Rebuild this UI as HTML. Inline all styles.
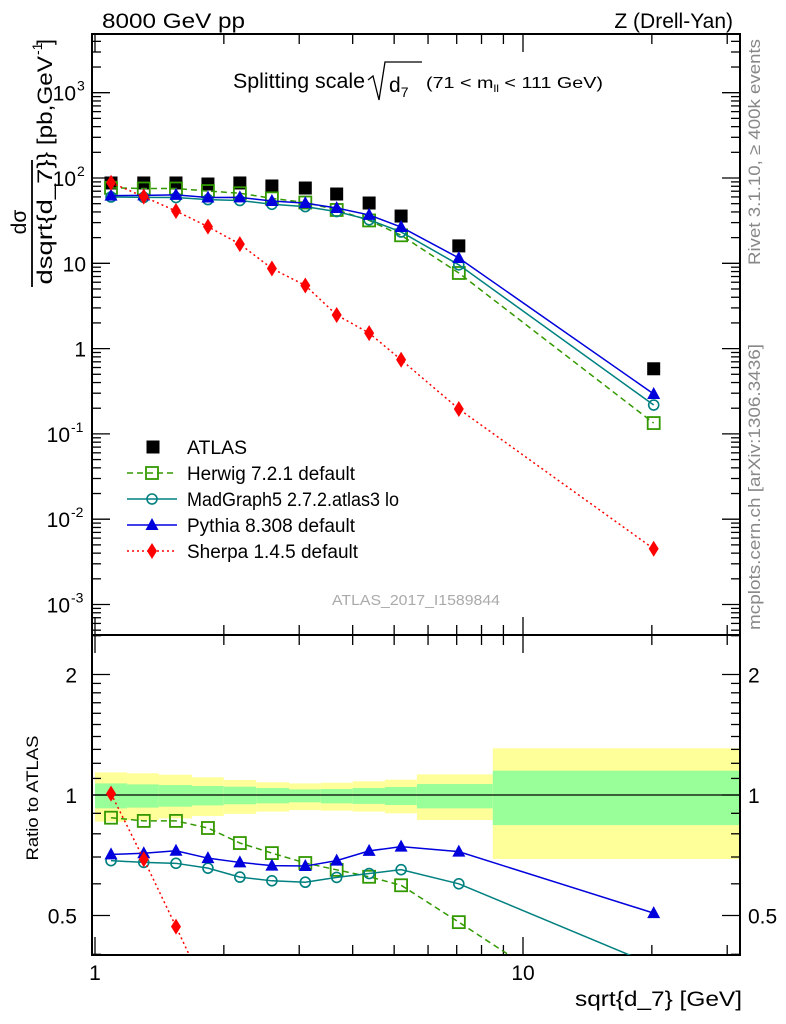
<!DOCTYPE html>
<html><head><meta charset="utf-8"><style>
html,body{margin:0;background:#fff;width:786px;height:1024px;overflow:hidden}
svg{display:block;font-family:"Liberation Sans",sans-serif}
</style></head><body>
<svg id="c" width="786" height="1024" viewBox="0 0 786 1024" xmlns="http://www.w3.org/2000/svg">
<text x="102" y="28" font-size="21" textLength="143" lengthAdjust="spacingAndGlyphs">8000 GeV pp</text>
<text x="733" y="28" font-size="21" text-anchor="end">Z (Drell-Yan)</text>
<g>
<text x="233" y="88" font-size="21" textLength="132" lengthAdjust="spacingAndGlyphs">Splitting scale</text>
<path d="M368,80 L373,76 L379,100 L385,62 L422,62" fill="none" stroke="#000" stroke-width="1.3"/>
<text x="389" y="92" font-size="21">d<tspan font-size="14" dy="5">7</tspan></text>
<text x="426" y="88" font-size="16" textLength="177" lengthAdjust="spacingAndGlyphs">(71 &lt; m<tspan font-size="10" dy="4">ll</tspan><tspan dy="-4"> &lt; 111 GeV)</tspan></text>
</g>
<g transform="rotate(-90)">
<text x="-222" y="26" font-size="21" text-anchor="middle">dσ</text>
<line x1="-287" y1="32" x2="-160" y2="32" stroke="#000" stroke-width="1.8"/>
<text x="-222" y="52" font-size="21" text-anchor="middle" textLength="125" lengthAdjust="spacingAndGlyphs">dsqrt{d_7}</text>
<text x="-160" y="52" font-size="21" textLength="104" lengthAdjust="spacingAndGlyphs">} [pb,GeV</text>
<text x="-55" y="42" font-size="14">-1</text>
<text x="-45" y="52" font-size="21">]</text>
</g>
<text transform="translate(38,798) rotate(-90)" font-size="17" text-anchor="middle" textLength="125" lengthAdjust="spacingAndGlyphs">Ratio to ATLAS</text>
<text transform="translate(760,265) rotate(-90)" font-size="17" fill="#888" textLength="226" lengthAdjust="spacingAndGlyphs">Rivet 3.1.10, ≥ 400k events</text>
<text transform="translate(760,630) rotate(-90)" font-size="17" fill="#888" textLength="286" lengthAdjust="spacingAndGlyphs">mcplots.cern.ch [arXiv:1306.3436]</text>
<text x="332" y="605" font-size="15" fill="#aaa" textLength="168" lengthAdjust="spacingAndGlyphs">ATLAS_2017_I1589844</text>
<text x="575" y="1006" font-size="21" textLength="167" lengthAdjust="spacingAndGlyphs">sqrt{d_7} [GeV]</text>
<g id="bands"></g><g id="axes"></g><g id="series"></g>
<g id="legend"></g>
</svg>
<script>
const xCenters=[1.09,1.30,1.546,1.836,2.18,2.59,3.10,3.67,4.37,5.19,7.08,20.2];
const binEdges=[1.0,1.188,1.41,1.685,2.0,2.38,2.84,3.37,4.0,4.76,5.65,8.5,32];
const atlas=[87.4,87.4,87.4,85.0,87.4,80.6,76.3,64.9,50.9,35.8,16.0,0.58];
const herwig=[76.7,75.3,75.3,70.3,66.3,57.7,51.6,42.2,31.8,21.3,7.7,0.134];
const madgraph=[59.9,59.3,59.0,55.8,54.5,49.2,46.2,40.4,32.4,23.3,9.6,0.218];
const pythia=[62.1,62.5,63.4,59.1,59.3,53.7,50.7,44.5,36.9,26.6,11.55,0.294];
const sherpa=[88.1,60.4,41.0,26.9,16.8,8.7,5.5,2.48,1.52,0.74,0.196,0.0045];
const yellowHi=[1.139,1.133,1.124,1.107,1.090,1.076,1.069,1.073,1.082,1.092,1.126,1.308];
const yellowLo=[0.858,0.866,0.874,0.886,0.897,0.909,0.917,0.914,0.909,0.900,0.866,0.692];
const greenHi=[1.069,1.063,1.059,1.053,1.049,1.041,1.033,1.035,1.041,1.047,1.065,1.150];
const greenLo=[0.926,0.930,0.935,0.942,0.948,0.953,0.959,0.953,0.950,0.944,0.926,0.841];
const yTickLabels=["10^-3","10^-2","10^-1","1","10","10^2","10^3"];
const rTickVals=[0.5,1,2];
const rMinorVals=[0.4,0.6,0.7,0.8,0.9,1.1,1.2,1.3,1.4,1.5,1.6,1.7,1.8,1.9,2.5];
const xticks=[1,2,3,4,5,6,7,8,9,10,20,30];

const NS="http://www.w3.org/2000/svg";
const L=92,R=740,T=34,MB=635,RB=955;
const X=v=>95+428*Math.log10(v);
const Y=v=>178-85.3*(Math.log10(v)-2);
const RY=v=>795-120.5*Math.log2(v);
function mk(p,tag,a){const e=document.createElementNS(NS,tag);for(const k in a)e.setAttribute(k,a[k]);p.appendChild(e);return e;}
const svg=document.getElementById('c');
const bands=document.getElementById('bands'),axes=document.getElementById('axes'),ser=document.getElementById('series'),leg=document.getElementById('legend');

for(let i=0;i<yellowHi.length;i++){
 const x0=Math.max(L,X(binEdges[i])),x1=Math.min(R,X(binEdges[i+1]));
 const y=mk(bands,'rect',{x:x0,y:RY(yellowHi[i]),width:x1-x0,height:RY(yellowLo[i])-RY(yellowHi[i]),fill:'#ffff99'});
 
 
 const g=mk(bands,'rect',{x:x0,y:RY(greenHi[i]),width:x1-x0,height:RY(greenLo[i])-RY(greenHi[i]),fill:'#99ff99'});
 
 
}
mk(bands,'line',{x1:L,x2:R,y1:RY(1),y2:RY(1),stroke:'#000','stroke-width':1.2});

[[T,MB],[MB,RB]].forEach(([t,b])=>{
 const f=mk(axes,'rect',{x:L,y:t,width:R-L,height:b-t,fill:'none',stroke:'#000','stroke-width':2});
 
 
});
xticks.forEach(v=>{const x=X(v);if(x<L||x>R)return;const len=(v===1||v===10)?18:10;
 [[T,MB],[MB,RB]].forEach(([t,b])=>{mk(axes,'line',{x1:x,x2:x,y1:b,y2:b-len,stroke:'#000','stroke-width':1.3});mk(axes,'line',{x1:x,x2:x,y1:t,y2:t+len,stroke:'#000','stroke-width':1.3});});});
[1,10].forEach(v=>{const t=mk(axes,'text',{x:X(v),y:980,'font-size':21,'text-anchor':'middle'});t.textContent=String(v);
 
 });
for(let e=-4;e<=3;e++){for(let m=1;m<10;m++){const v=m*Math.pow(10,e);const y=Y(v);if(y<T||y>MB)continue;const len=m===1?18:9;
 mk(axes,'line',{x1:L,x2:L+len,y1:y,y2:y,stroke:'#000','stroke-width':1.3});mk(axes,'line',{x1:R,x2:R-len,y1:y,y2:y,stroke:'#000','stroke-width':1.3});}}
yTickLabels.forEach(s=>{let v,txt,sup=null;if(s.includes('^')){const p=s.split('^');v=Math.pow(10,+p[1]);txt=p[0];sup=p[1];}else{v=+s;txt=s;}
 const t=mk(axes,'text',{x:sup?(sup.length>1?70:76):86,y:Y(v)+8,'font-size':21,'text-anchor':'end'});t.textContent=txt;
 
 
 if(sup){const s2=mk(axes,'text',{x:sup.length>1?71:77,y:Y(v)-2,'font-size':14,'text-anchor':'start'});s2.textContent=sup;}});
rTickVals.concat(rMinorVals).forEach(v=>{const y=RY(v);if(y<MB||y>RB)return;const maj=rTickVals.indexOf(v)>=0;const len=maj?18:9;
 mk(axes,'line',{x1:L,x2:L+len,y1:y,y2:y,stroke:'#000','stroke-width':1.3});mk(axes,'line',{x1:R,x2:R-len,y1:y,y2:y,stroke:'#000','stroke-width':1.3});});
rTickVals.forEach(v=>{[[77,'end'],[748,'start']].forEach(([x,a])=>{const t=mk(axes,'text',{x:x,y:RY(v)+8,'font-size':21,'text-anchor':a});t.textContent=String(v);
 
 });});

function marker(p,type,x,y,col){
 if(type==='sq')return mk(p,'rect',{x:x-6,y:y-6,width:12,height:12,fill:'none',stroke:col,'stroke-width':1.8});
 if(type==='circ')return mk(p,'circle',{cx:x,cy:y,r:5,fill:'none',stroke:col,'stroke-width':1.6});
 if(type==='tri')return mk(p,'path',{d:`M${x},${y-7}L${x+6.5},${y+5}L${x-6.5},${y+5}Z`,fill:col});
 if(type==='dia')return mk(p,'path',{d:`M${x},${y-8}L${x+5},${y}L${x},${y+8}L${x-5},${y}Z`,fill:col});
 return mk(p,'rect',{x:x-6.5,y:y-6.5,width:13,height:13,fill:col});
}
const defs=[
 {name:'herwig',data:herwig,col:'#339900',dash:'6,4',m:'sq',label:'Herwig 7.2.1 default',w:168},
 {name:'madgraph',data:madgraph,col:'#008080',dash:'',m:'circ',label:'MadGraph5 2.7.2.atlas3 lo',w:212},
 {name:'pythia',data:pythia,col:'#0000dd',dash:'',m:'tri',label:'Pythia 8.308 default',w:168},
 {name:'sherpa',data:sherpa,col:'#ff0000',dash:'2,3',m:'dia',label:'Sherpa 1.4.5 default',w:171}];
const clipM=mk(svg,'clipPath',{id:'cm'});mk(clipM,'rect',{x:L,y:T,width:R-L,height:MB-T});
const clipR=mk(svg,'clipPath',{id:'cr'});mk(clipR,'rect',{x:L,y:MB,width:R-L,height:RB-MB});
const gm=mk(ser,'g',{'clip-path':'url(#cm)'}),gr=mk(ser,'g',{'clip-path':'url(#cr)'});
atlas.forEach((v,i)=>{const m=marker(gm,'fsq',X(xCenters[i]),Y(v),'#000');
 
 });
defs.forEach(d=>{
 const pm=d.data.map((v,i)=>`${X(xCenters[i])},${Y(v)}`).join(' ');
 const l=mk(gm,'polyline',{points:pm,fill:'none',stroke:d.col,'stroke-width':1.5,'stroke-dasharray':d.dash||'none'});
 
 
 const pr=d.data.map((v,i)=>`${X(xCenters[i])},${RY(v/atlas[i])}`).join(' ');
 const lr=mk(gr,'polyline',{points:pr,fill:'none',stroke:d.col,'stroke-width':1.5,'stroke-dasharray':d.dash||'none'});
 
 
 d.data.forEach((v,i)=>{const a=marker(gm,d.m,X(xCenters[i]),Y(v),d.col);
  
  
  const b=marker(gr,d.m,X(xCenters[i]),RY(v/atlas[i]),d.col);
  
  });
});
const ly=[447,473,499,525,551];
marker(leg,'fsq',153,ly[0],'#000');
const t0=mk(leg,'text',{x:187,y:ly[0]+7,'font-size':19,textLength:60,lengthAdjust:'spacingAndGlyphs'});t0.textContent='ATLAS';


defs.forEach((d,k)=>{const y=ly[k+1];
 mk(leg,'line',{x1:127,x2:177,y1:y,y2:y,stroke:d.col,'stroke-width':1.5,'stroke-dasharray':d.dash||'none'});
 marker(leg,d.m,152,y,d.col);
 const t=mk(leg,'text',{x:187,y:y+7,'font-size':19,textLength:d.w,lengthAdjust:'spacingAndGlyphs'});t.textContent=d.label;
 
 });
</script>
</body></html>
